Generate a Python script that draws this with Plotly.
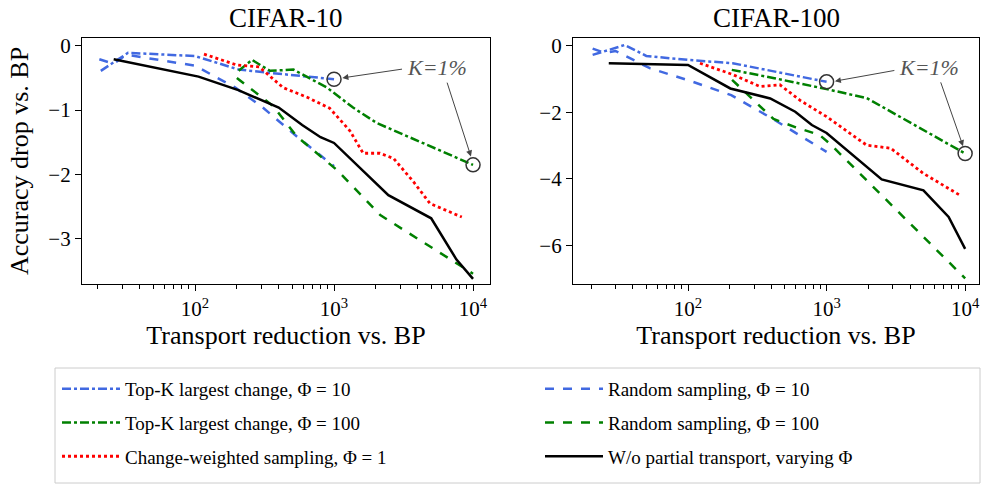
import plotly.graph_objects as go

# ---------------- data ----------------
# CIFAR-10
c10_topk10_x = [21, 33, 100, 206, 340, 600, 1000]
c10_topk10_y = [-0.39, -0.11, -0.16, -0.37, -0.42, -0.47, -0.52]
c10_rand10_x = [20.5, 26, 32, 100, 195, 300, 540, 1000]
c10_rand10_y = [-0.21, -0.28, -0.14, -0.31, -0.65, -0.94, -1.41, -1.87]
c10_topk100_x = [206, 257, 346, 510, 890, 1370, 2030, 10000]
c10_topk100_y = [-0.39, -0.22, -0.39, -0.37, -0.65, -0.96, -1.2, -1.85]
c10_rand100_x = [200, 366, 540, 1050, 2150, 10000]
c10_rand100_y = [-0.5, -0.94, -1.41, -1.93, -2.63, -3.54]
c10_cw_x = [116, 200, 290, 430, 640, 930, 1300, 1620, 2140, 2680, 3720, 4900, 8300]
c10_cw_y = [-0.13, -0.3, -0.33, -0.65, -0.8, -0.97, -1.32, -1.67, -1.67, -1.75, -2.11, -2.45, -2.66]
c10_wo_x = [26, 106, 205, 400, 590, 800, 1000, 2460, 5000, 7600, 10000]
c10_wo_y = [-0.21, -0.48, -0.69, -0.96, -1.23, -1.42, -1.51, -2.32, -2.68, -3.32, -3.62]

# CIFAR-100
c100_topk10_x = [20.5, 25, 35, 50, 100, 210, 1000]
c100_topk10_y = [-0.27, -0.15, 0.03, -0.3, -0.42, -0.52, -1.08]
c100_rand10_x = [20.5, 25, 30, 53, 100, 205, 410, 1000]
c100_rand10_y = [-0.08, -0.21, -0.15, -0.67, -1.03, -1.48, -2.2, -3.19]
c100_topk100_x = [207, 420, 1000, 1950, 10000]
c100_topk100_y = [-0.72, -0.97, -1.3, -1.57, -3.24]
c100_rand100_x = [208, 414, 600, 890, 1060, 10000]
c100_rand100_y = [-1.02, -2.2, -2.45, -2.68, -2.95, -7.0]
c100_cw_x = [122, 207, 330, 460, 650, 1000, 1950, 2900, 5000, 9200]
c100_cw_y = [-0.52, -0.85, -1.22, -1.17, -1.65, -2.13, -2.99, -3.08, -3.84, -4.5]
c100_wo_x = [26.8, 100, 202, 392, 594, 783, 1000, 2500, 5000, 7600, 10000]
c100_wo_y = [-0.52, -0.57, -1.28, -1.58, -1.98, -2.38, -2.62, -4.02, -4.35, -5.15, -6.11]

titles = ["CIFAR-10", "CIFAR-100"]
x_ticks = [100, 1000, 10000]
x_ticktext = ["10<sup>2</sup>", "10<sup>3</sup>", "10<sup>4</sup>"]
x_minor = [20, 30, 40, 50, 60, 70, 80, 90, 200, 300, 400, 500, 600, 700, 800, 900,
           2000, 3000, 4000, 5000, 6000, 7000, 8000, 9000]
y_ticks_left = [0, -1, -2, -3]
y_ticks_right = [0, -2, -4, -6]

names = ["Top-K largest change, Φ = 10", "Random sampling, Φ = 10",
         "Top-K largest change, Φ = 100", "Random sampling, Φ = 100",
         "Change-weighted sampling, Φ = 1", "W/o partial transport, varying Φ"]
colors = ["#4169E1", "#4169E1", "#008000", "#008000", "#FF0000", "#000000"]
dashes = ["dashdot", "dash", "dashdot", "dash", "dot", "solid"]
legend_of = ["legend", "legend2", "legend", "legend2", "legend", "legend2"]

FONT = "Liberation Serif"

panels = [
    [(c10_topk10_x, c10_topk10_y), (c10_rand10_x, c10_rand10_y), (c10_topk100_x, c10_topk100_y),
     (c10_rand100_x, c10_rand100_y), (c10_cw_x, c10_cw_y), (c10_wo_x, c10_wo_y)],
    [(c100_topk10_x, c100_topk10_y), (c100_rand10_x, c100_rand10_y), (c100_topk100_x, c100_topk100_y),
     (c100_rand100_x, c100_rand100_y), (c100_cw_x, c100_cw_y), (c100_wo_x, c100_wo_y)],
]

fig = go.Figure()
for p, series in enumerate(panels):
    xa = "x" if p == 0 else "x2"
    ya = "y" if p == 0 else "y2"
    for i, (xs, ys) in enumerate(series):
        fig.add_trace(go.Scatter(
            x=xs, y=ys, mode="lines", name=names[i], xaxis=xa, yaxis=ya,
            legend=legend_of[i], legendgroup="g%d" % i,
            line=dict(color=colors[i], dash=dashes[i], width=2.5 if dashes[i] != "dot" else 2.8),
            showlegend=(p == 0)))
    # K=1% circles at the end of the Top-K curves
    fig.add_trace(go.Scatter(
        x=[series[0][0][-1], series[2][0][-1]], y=[series[0][1][-1], series[2][1][-1]],
        mode="markers", xaxis=xa, yaxis=ya, showlegend=False,
        marker=dict(symbol="circle-open", size=14, color="#333333", line=dict(width=1.5))))

axis_common = dict(showline=True, mirror=True, linecolor="black", linewidth=1.3,
                   ticks="outside", ticklen=6, tickwidth=1.2, tickcolor="black",
                   showgrid=False, zeroline=False, automargin=False,
                   tickfont=dict(family=FONT, size=21, color="black"))

xdom = [[82 / 982, 490 / 982], [573 / 982, 979 / 982]]
ydom = [1 - 284 / 485, 1 - 38 / 485]

xcommon = dict(axis_common, type="log", tickvals=x_ticks, ticktext=x_ticktext,
               minor=dict(tickvals=x_minor, ticks="outside", ticklen=3.5, tickwidth=1, tickcolor="black"),
               title=dict(text="Transport reduction vs. BP", font=dict(family=FONT, size=26, color="black"),
                          standoff=5))

legend_common = dict(orientation="v", yanchor="middle", xanchor="left", borderwidth=0,
                     bgcolor="rgba(0,0,0,0)", tracegroupgap=6, itemwidth=58,
                     font=dict(family=FONT, size=19, color="black"))

fig.update_layout(
    width=982, height=485, margin=dict(l=0, r=0, t=0, b=0),
    paper_bgcolor="white", plot_bgcolor="white",
    font=dict(family=FONT, color="black"),
    xaxis=dict(xcommon, domain=xdom[0], range=[1.187, 4.122], anchor="y"),
    yaxis=dict(axis_common, domain=ydom, range=[-3.70, 0.12], tickvals=y_ticks_left,
               anchor="x",
               title=dict(text="Accuracy drop vs. BP", font=dict(family=FONT, size=26, color="black"),
                          standoff=12)),
    xaxis2=dict(xcommon, domain=xdom[1], range=[1.17, 4.10], anchor="y2"),
    yaxis2=dict(axis_common, domain=ydom, range=[-7.17, 0.24], tickvals=y_ticks_right, anchor="x2"),
    legend=dict(legend_common, x=57 / 982, y=1 - 423 / 485),
    legend2=dict(legend_common, x=540 / 982, y=1 - 423 / 485),
    shapes=[dict(type="rect", xref="paper", yref="paper",
                 x0=55 / 982, x1=980 / 982, y0=1 - 483 / 485, y1=1 - 368 / 485,
                 line=dict(color="#cccccc", width=1), fillcolor="rgba(0,0,0,0)")],
)

# panel titles
for p in range(2):
    fig.add_annotation(text=titles[p], xref="paper", yref="paper",
                       x=(xdom[p][0] + xdom[p][1]) / 2, y=1 - 18 / 485,
                       showarrow=False, font=dict(family=FONT, size=27, color="black"),
                       xanchor="center", yanchor="middle")

# K=1% annotations (coordinates in log10 units for x)
ann = [
    ("x", "y", 3.74, -0.34, [(3.50, -0.36, 3.06, -0.50), (3.81, -0.55, 3.985, -1.72)]),
    ("x2", "y2", 3.74, -0.66, [(3.50, -0.73, 3.06, -1.06), (3.82, -1.05, 3.985, -3.02)]),
]
for xr, yr, tx, ty, arrows in ann:
    fig.add_annotation(text="<i>K=1%</i>", xref=xr, yref=yr, x=tx, y=ty, showarrow=False,
                       font=dict(family=FONT, size=22, color="#555555"))
    for (ax_, ay_, hx, hy) in arrows:
        fig.add_annotation(text="", xref=xr, yref=yr, x=hx, y=hy, axref=xr, ayref=yr,
                           ax=ax_, ay=ay_, showarrow=True, arrowhead=2, arrowsize=1.2,
                           arrowwidth=1, arrowcolor="#444444")

fig.write_html("out.html")
